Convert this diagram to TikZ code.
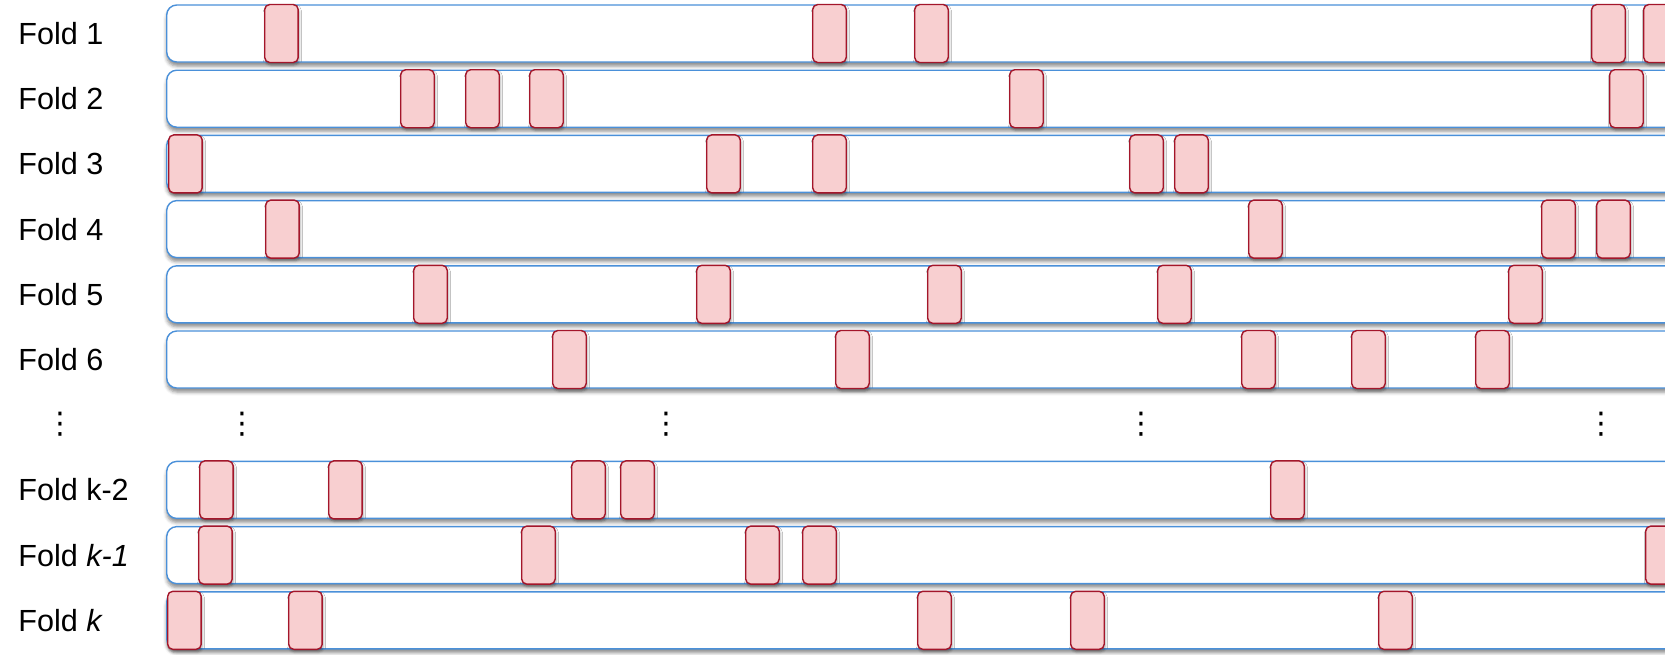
\documentclass[tikz,border=0pt]{standalone}
\usepackage{fontspec}
\setmainfont{Liberation Sans}
\newfontfamily\dotsfont{DejaVu Sans}
\usepackage{tikz}
\usetikzlibrary{shadows.blur}

\definecolor{barblue}{HTML}{4A90D9}
\definecolor{blkfill}{HTML}{F8CFD0}
\definecolor{blkdraw}{HTML}{A3162A}

\begin{document}
\begin{tikzpicture}[
    x=0.02cm, y=-0.02cm,
    foldbar/.style={rectangle, draw=barblue, fill=white, line width=0.8pt, rounded corners=0.2cm, minimum width=31cm, minimum height=1.14cm, anchor=west, inner sep=0pt, blur shadow={shadow xshift=0cm, shadow yshift=-0.08cm, shadow blur radius=0.07cm, shadow opacity=45}},
    testblk/.style={rectangle, draw=blkdraw, fill=blkfill, line width=0.8pt, rounded corners=0.1cm, minimum width=0.67cm, minimum height=1.16cm, anchor=west, inner sep=0pt, blur shadow={shadow xshift=0.02cm, shadow yshift=-0.05cm, shadow blur radius=0.05cm, shadow opacity=35}},
    foldlbl/.style={anchor=base west, inner sep=0pt, font=\fontsize{17.4}{20}\selectfont},
    vdot/.style={inner sep=0pt, font=\dotsfont\fontsize{17}{20}\selectfont}
]
    \clip (0,0) rectangle (1665,654);

    % folds: row number / label
    \foreach \r/\txt in {1/Fold 1, 2/Fold 2, 3/Fold 3, 4/Fold 4, 5/Fold 5, 6/Fold 6,
                         8/Fold k-2, 9/Fold \textit{k-1}, 10/Fold \textit{k}} {
        \node [foldbar] (bar\r) at (166, {33.5+65.2*(\r-1)}) {};
        \node [foldlbl] (lbl\r) at (18, {44.5+65.2*(\r-1)}) {\txt};
    }

    % held-out pieces in each fold
    \foreach \r/\xs in {1/{264,812,914,1591,1643},
                        2/{400,465,529,1009,1609},
                        3/{168,706,812,1129,1174},
                        4/{265,1248,1541,1596},
                        5/{413,696,927,1157,1508},
                        6/{552,835,1241,1351,1475},
                        8/{199,328,571,620,1270},
                        9/{198,521,745,802,1645},
                        10/{167,288,917,1070,1378}} {
        \foreach \x [count=\i] in \xs {
            \node [testblk] (blk\r-\i) at (\x, {33.5+65.2*(\r-1)}) {};
        }
    }

    % skipped folds
    \foreach \x [count=\i] in {60,242,666,1141,1601} {
        \node [vdot] (dots\i) at (\x, 424) {⋮};
    }
\end{tikzpicture}
\end{document}
